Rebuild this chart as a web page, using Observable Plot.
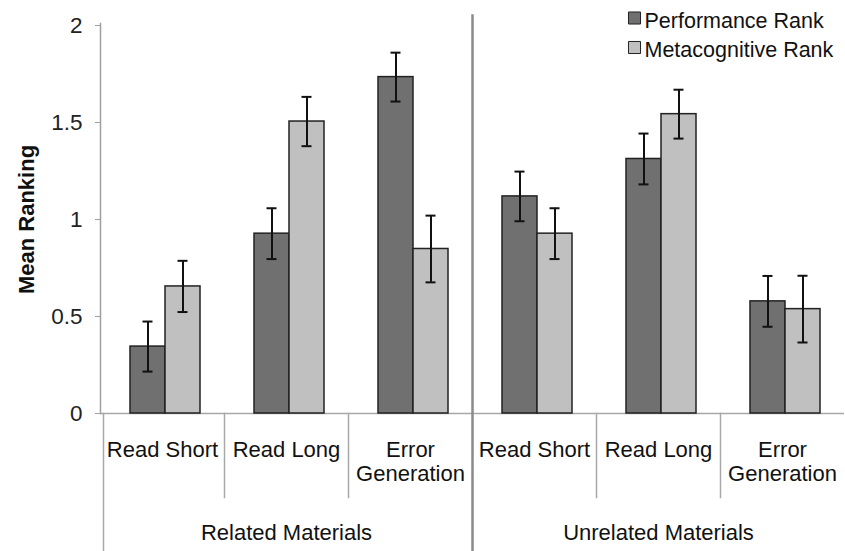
<!DOCTYPE html>
<html><head><meta charset="utf-8">
<script src="https://cdn.jsdelivr.net/npm/d3@7"></script>
<script src="https://cdn.jsdelivr.net/npm/@observablehq/plot@0.6"></script>
<style>body{margin:0;background:#fff} #chart{width:845px;height:551px}</style>
</head><body><div id="chart"></div>
<script>
const categories = ["Read Short", "Read Long", "Error\nGeneration", "Read Short", "Read Long", "Error\nGeneration"];
const groupOf = [0, 0, 0, 1, 1, 1];
const groupLabels = ["Related Materials", "Unrelated Materials"];
const series = ["Performance Rank", "Metacognitive Rank"];
const performance = [0.345, 0.927, 1.734, 1.119, 1.312, 0.578];
const performanceErr = [0.129, 0.131, 0.126, 0.128, 0.131, 0.131];
const metacognitive = [0.655, 1.505, 0.848, 0.927, 1.543, 0.538];
const metacognitiveErr = [0.132, 0.127, 0.172, 0.131, 0.126, 0.172];
const yTicks = [0, 0.5, 1, 1.5, 2];
const colors = ["#707070", "#c0c0c0"];

const rows = [];
categories.forEach((c, i) => {
  rows.push({cat: i, series: series[0], value: performance[i], err: performanceErr[i]});
  rows.push({cat: i, series: series[1], value: metacognitive[i], err: metacognitiveErr[i]});
});
const idx = d3.range(categories.length);
const innerDividers = idx.filter(i => i > 0 && groupOf[i] === groupOf[i - 1]);
const groupBreaks = idx.filter(i => i > 0 && groupOf[i] !== groupOf[i - 1]);
const groupCenters = groupLabels.map((g, k) => ({cat: d3.mean(idx.filter(i => groupOf[i] === k)), label: g}));
const legendCat = categories.length - 2;

const font = "'Liberation Sans', Arial, sans-serif";
const legendMarks = series.flatMap((s, i) => [
  Plot.dot([s], {fx: () => legendCat, frameAnchor: "top-left", dx: 38, dy: -7.5 + 29.5 * i,
    symbol: "square", r: 6.8, fill: d => d, stroke: "#222", strokeWidth: 1}),
  Plot.text([s], {fx: () => legendCat, frameAnchor: "top-left", dx: 48, dy: -4 + 28.5 * i,
    textAnchor: "start", lineAnchor: "middle", fontSize: 21.5, fill: "#111"})
]);

const plot = Plot.plot({
  width: 845, height: 551,
  marginLeft: 98, marginRight: 0, marginTop: 25, marginBottom: 138,
  style: {fontFamily: font, background: "#fff", color: "#222"},
  fx: {domain: idx, padding: 0, axis: null},
  x: {domain: series, paddingInner: 0, paddingOuter: 0.729, align: 0.55, axis: null},
  y: {domain: [0, 2], axis: null},
  color: {domain: series, range: colors},
  marks: [
    Plot.ruleY([0], {stroke: "#a8a8a8", strokeWidth: 1.5}),
    Plot.frame({anchor: "left", fx: () => 0, stroke: "#a0a0a0", strokeWidth: 1.5, insetTop: -2}),
    Plot.axisY({ticks: yTicks, tickSize: 5, tickPadding: 13, fontSize: 22.5, stroke: "#a0a0a0",
      fill: "#222", label: null, tickFormat: d => String(d)}),
    Plot.text(["Mean Ranking"], {fx: () => 0, frameAnchor: "left", dx: -74, rotate: -90,
      textAnchor: "middle", lineAnchor: "middle",
      fontSize: 22, fontWeight: "bold", fill: "#111"}),
    Plot.barY(rows, {fx: "cat", x: "series", y: "value", fill: "series", stroke: "#222", strokeWidth: 1.5}),
    Plot.ruleX(rows, {fx: "cat", x: "series", y1: d => d.value - d.err, y2: d => d.value + d.err,
      stroke: "#111", strokeWidth: 2}),
    Plot.tickY(rows, {fx: "cat", x: "series", y: d => d.value - d.err, insetLeft: 12.5, insetRight: 12.5,
      stroke: "#111", strokeWidth: 2}),
    Plot.tickY(rows, {fx: "cat", x: "series", y: d => d.value + d.err, insetLeft: 12.5, insetRight: 12.5,
      stroke: "#111", strokeWidth: 2}),
    Plot.axisFx({anchor: "bottom", tickSize: 0, tickPadding: 26, fontSize: 22, lineHeight: 1.1,
      tickFormat: i => categories[i], fill: "#111", label: null}),
    Plot.text(groupCenters, {fx: "cat", text: "label", frameAnchor: "bottom", lineAnchor: "middle",
      dy: 119, fontSize: 22, fill: "#111"}),
    ...innerDividers.map(i => Plot.frame({anchor: "left", fx: () => i, stroke: "#a8a8a8", strokeWidth: 1.5,
      insetTop: 388, insetBottom: -84})),
    ...groupBreaks.map(i => Plot.frame({anchor: "left", fx: () => i, stroke: "#8a8a8a", strokeWidth: 2.5,
      insetTop: -10, insetBottom: -138})),
    Plot.frame({anchor: "left", fx: () => 0, insetLeft: 3, insetTop: 388, insetBottom: -138,
      stroke: "#a8a8a8", strokeWidth: 1.5}),
    ...legendMarks
  ]
});
document.getElementById("chart").appendChild(plot);
</script>
</body></html>
